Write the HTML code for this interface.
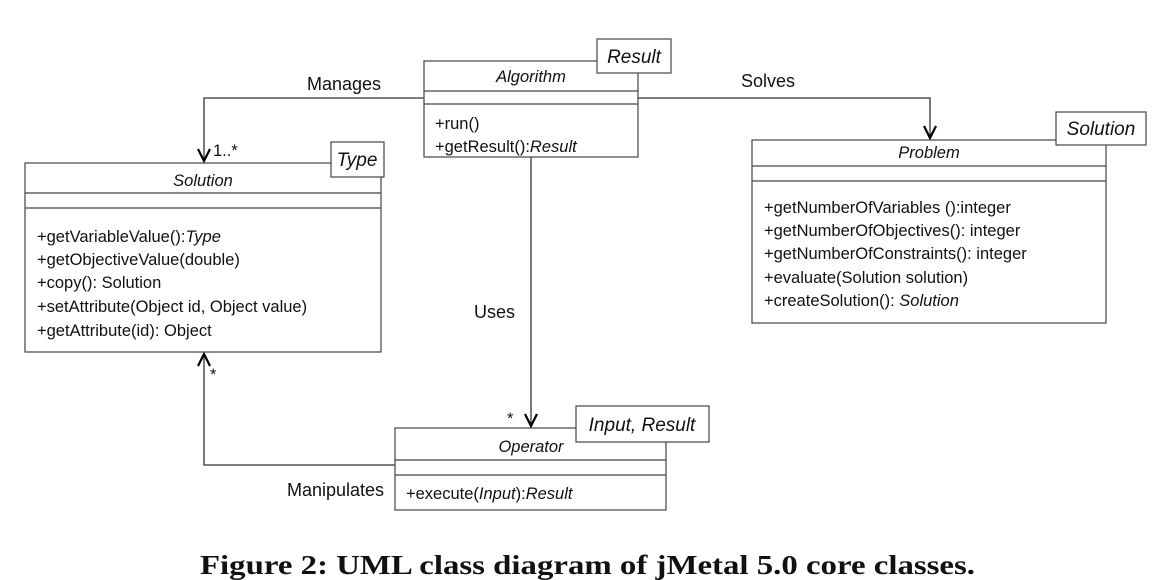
<!DOCTYPE html>
<html><head><meta charset="utf-8"><style>
html,body{margin:0;padding:0;background:#fff;width:1162px;height:580px;overflow:hidden}
svg text{font-family:"Liberation Sans",sans-serif;fill:#111}
.m{font-size:16.5px}
.lab{font-size:18px}
.tp{font-size:19px}
</style></head><body>
<svg width="1162" height="580" viewBox="0 0 1162 580">
<g stroke="#333" stroke-width="1.3" fill="none">
  <polyline points="424,98 204,98 204,161"/>
  <polyline points="198,149 204,161 210,149" stroke="#000" stroke-width="2.2"/>
  <polyline points="638,98 930,98 930,138"/>
  <polyline points="924,126 930,138 936,126" stroke="#000" stroke-width="2.2"/>
  <polyline points="531,157 531,426"/>
  <polyline points="525,414 531,426 537,414" stroke="#000" stroke-width="2.2"/>
  <polyline points="395,465 204,465 204,354"/>
  <polyline points="198,366 204,354 210,366" stroke="#000" stroke-width="2.2"/>
</g>

<g stroke="#444" stroke-width="1.2">
  <rect x="424" y="61" width="214" height="96" fill="#fff"/>
  <line x1="424" y1="91" x2="638" y2="91"/>
  <line x1="424" y1="104" x2="638" y2="104"/>
  <rect x="597" y="39" width="74" height="34" fill="#fff"/>
</g>
<text x="531" y="82" text-anchor="middle" class="m" font-style="italic">Algorithm</text>
<text x="634" y="63" text-anchor="middle" class="tp" font-style="italic">Result</text>
<text x="435" y="129" class="m">+run()</text>
<text x="435" y="152" class="m">+getResult():<tspan font-style="italic">Result</tspan></text>

<g stroke="#444" stroke-width="1.2">
  <rect x="25" y="163" width="356" height="189" fill="#fff"/>
  <line x1="25" y1="193" x2="381" y2="193"/>
  <line x1="25" y1="208" x2="381" y2="208"/>
  <rect x="331" y="142" width="53" height="35" fill="#fff"/>
</g>
<text x="203" y="186" text-anchor="middle" class="m" font-style="italic">Solution</text>
<text x="357" y="166" text-anchor="middle" class="tp" font-style="italic">Type</text>
<text x="37" y="242" class="m">+getVariableValue():<tspan font-style="italic">Type</tspan></text>
<text x="37" y="265" class="m">+getObjectiveValue(double)</text>
<text x="37" y="288" class="m">+copy(): Solution</text>
<text x="37" y="312" class="m">+setAttribute(Object id, Object value)</text>
<text x="37" y="336" class="m">+getAttribute(id): Object</text>

<g stroke="#444" stroke-width="1.2">
  <rect x="752" y="140" width="354" height="183" fill="#fff"/>
  <line x1="752" y1="166" x2="1106" y2="166"/>
  <line x1="752" y1="181" x2="1106" y2="181"/>
  <rect x="1056" y="112" width="90" height="33" fill="#fff"/>
</g>
<text x="929" y="158" text-anchor="middle" class="m" font-style="italic">Problem</text>
<text x="1101" y="135" text-anchor="middle" class="tp" font-style="italic">Solution</text>
<text x="764" y="213" class="m">+getNumberOfVariables ():integer</text>
<text x="764" y="236" class="m">+getNumberOfObjectives(): integer</text>
<text x="764" y="259" class="m">+getNumberOfConstraints(): integer</text>
<text x="764" y="283" class="m">+evaluate(Solution solution)</text>
<text x="764" y="306" class="m">+createSolution(): <tspan font-style="italic">Solution</tspan></text>

<g stroke="#444" stroke-width="1.2">
  <rect x="395" y="428" width="271" height="82" fill="#fff"/>
  <line x1="395" y1="460" x2="666" y2="460"/>
  <line x1="395" y1="475" x2="666" y2="475"/>
  <rect x="576" y="406" width="133" height="36" fill="#fff"/>
</g>
<text x="531" y="452" text-anchor="middle" class="m" font-style="italic">Operator</text>
<text x="642" y="431" text-anchor="middle" class="tp" font-style="italic">Input, Result</text>
<text x="406" y="499" class="m">+execute(<tspan font-style="italic">Input</tspan>):<tspan font-style="italic">Result</tspan></text>

<text x="307" y="90" class="lab">Manages</text>
<text x="213" y="156" class="m">1..*</text>
<text x="741" y="87" class="lab">Solves</text>
<text x="474" y="318" class="lab">Uses</text>
<text x="507" y="424" class="m">*</text>
<text x="210" y="380" class="m">*</text>
<text x="287" y="496" class="lab">Manipulates</text>

<text x="200" y="574" style="font-family:'Liberation Serif',serif;font-weight:bold;font-size:27px" textLength="775" lengthAdjust="spacingAndGlyphs">Figure 2: UML class diagram of jMetal 5.0 core classes.</text>
</svg>
</body></html>
